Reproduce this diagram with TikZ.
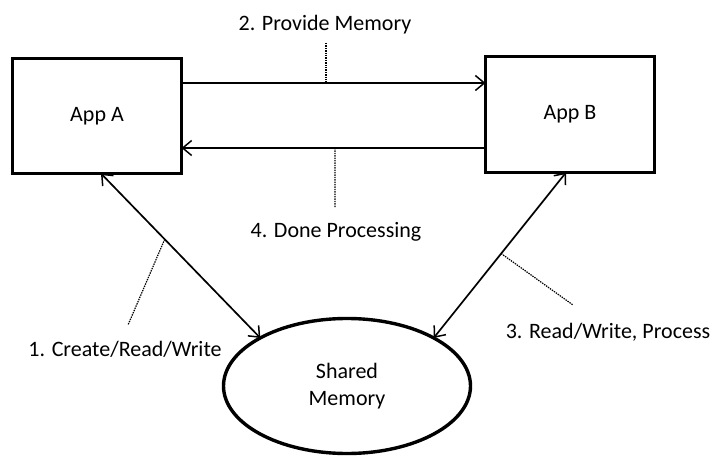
\documentclass[tikz,border=0pt]{standalone}
\usepackage{fontspec}
\setmainfont{Carlito}
\usetikzlibrary{arrows.meta,shapes.geometric}
\begin{document}
\begin{tikzpicture}[x=1pt,y=-1pt,
  font=\fontsize{22}{28}\selectfont,
  box/.style={draw,line width=3.4pt,inner sep=0pt,outer sep=0pt},
  blob/.style={draw,ellipse,line width=3.4pt,inner sep=0pt,outer sep=0pt,align=center,minimum width=247pt,minimum height=135pt},
  conn/.style={line width=1.7pt,arrows={-Straight Barb[length=9pt,width=15pt,line width=1.5pt]}},
  dconn/.style={line width=1.7pt,arrows={Straight Barb[length=9pt,width=15pt,line width=1.5pt]-Straight Barb[length=9pt,width=15pt,line width=1.5pt]}},
  leader/.style={line width=1.2pt,dash pattern=on 1.4pt off 1pt},
  lbl/.style={inner sep=0pt}]
\useasboundingbox (0,0) rectangle (715,457);
\node[box,minimum width=169pt,minimum height=115pt] (A) at (97,116) {App A};
\node[box,minimum width=169pt,minimum height=116pt] (B) at (570,114.5) {App B};
\node[blob] (M) at (347,386) {Shared\\[-1pt]Memory};
\coordinate (y1) at (0,83);
\coordinate (y2) at (0,148);
\draw[conn] (A.east |- y1) -- coordinate[pos=0.475] (c2) (B.west |- y1);
\draw[conn] (B.west |- y2) -- coordinate[pos=0.495] (c4) (A.east |- y2);
\draw[dconn] ([xshift=4pt]A.south) -- coordinate[pos=0.4] (c1) (M.151);
\draw[dconn] ([xshift=-4pt]B.south) -- coordinate[pos=0.49] (c3) (M.29);
\node[lbl] (T2) at (325,25) {2. Provide Memory};
\node[lbl] (T4) at (336,232) {4. Done Processing};
\node[lbl] (T1) at (125,349) {1. Create/Read/Write};
\node[lbl] (T3) at (608,332) {3. Read/Write, Process};
\coordinate (e2) at (326,43);
\coordinate (e4) at (335,208);
\coordinate (e1) at (128,325);
\coordinate (e3) at (573,305);
\draw[leader] (e2) -- (e2 |- c2);
\draw[leader] (c4 |- y2) -- (e4);
\draw[leader] (c1) -- (e1);
\draw[leader] (c3) -- (e3);
\end{tikzpicture}
\end{document}
